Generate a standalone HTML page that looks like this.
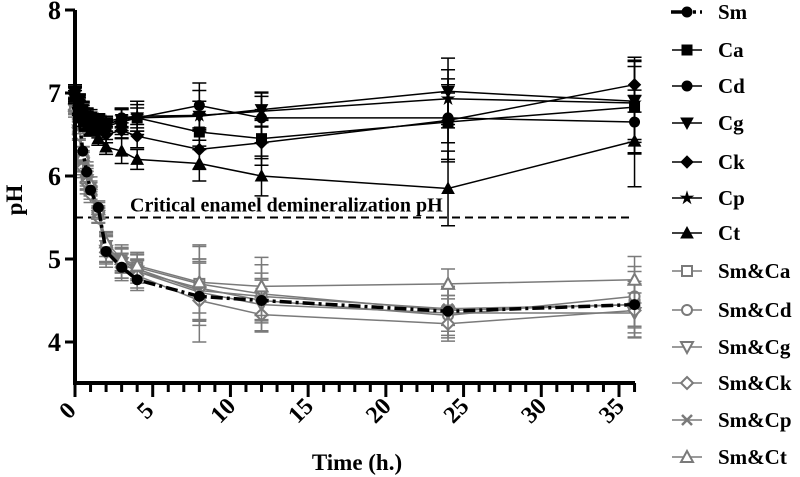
<!DOCTYPE html>
<html><head><meta charset="utf-8"><style>
html,body{margin:0;padding:0;background:#fff;}
svg{display:block;font-family:"Liberation Serif",serif;font-weight:bold;}
</style></head><body>
<svg id="chart" width="800" height="477" viewBox="0 0 800 477"></svg>
<script>
const times=[0,0.25,0.5,0.75,1,1.5,2,3,4,8,12,24,36];
const seriesNames=['Sm','Ca','Cd','Cg','Ck','Cp','Ct','Sm&Ca','Sm&Cd','Sm&Cg','Sm&Ck','Sm&Cp','Sm&Ct'];
const smVals=[6.95,6.7,6.3,6.05,5.83,5.62,5.09,4.9,4.75,4.55,4.5,4.37,4.45];
const caVals=[7.0,6.9,6.8,6.72,6.68,6.65,6.6,6.65,6.7,6.53,6.45,6.65,6.83];
const cdVals=[7.0,6.88,6.78,6.7,6.68,6.65,6.6,6.7,6.7,6.85,6.7,6.7,6.65];
const cgVals=[7.0,6.9,6.8,6.72,6.7,6.66,6.62,6.68,6.7,6.72,6.8,7.02,6.9];
const ckVals=[6.98,6.85,6.72,6.62,6.58,6.55,6.5,6.55,6.48,6.32,6.4,6.67,7.1];
const cpVals=[7.0,6.9,6.8,6.72,6.7,6.68,6.65,6.7,6.72,6.73,6.78,6.93,6.88];
const ctVals=[6.95,6.82,6.7,6.6,6.55,6.45,6.35,6.3,6.2,6.15,6.0,5.85,6.42];
const smCaVals=[6.85,6.6,6.2,6.0,5.85,5.58,5.15,4.98,4.9,4.7,4.58,4.38,4.45];
const smCdVals=[6.85,6.6,6.15,5.98,5.82,5.55,5.12,4.95,4.85,4.65,4.5,4.32,4.55];
const smCgVals=[6.8,6.55,6.15,5.95,5.8,5.52,5.1,4.95,4.85,4.6,4.45,4.35,4.35];
const smCkVals=[6.8,6.5,6.1,5.92,5.78,5.5,5.08,4.9,4.8,4.5,4.33,4.22,4.38];
const smCpVals=[6.85,6.6,6.2,6.0,5.85,5.56,5.15,4.97,4.88,4.62,4.55,4.4,4.45];
const smCtVals=[6.85,6.65,6.25,6.05,5.9,5.6,5.2,5.0,4.92,4.72,4.67,4.7,4.75];
const blackSd=[0.1,0.1,0.1,0.1,0.1,0.1,0.1,0.15,0.2,0.3,0.3,0.5,0.55];
const graySd=[0.1,0.1,0.15,0.15,0.1,0.1,0.2,0.2,0.2,0.5,0.35,0.3,0.4];
const xTicks=[0,5,10,15,20,25,30,35];
const yTicks=[4,5,6,7,8];
const criticalPH=5.5;

const NS='http://www.w3.org/2000/svg';
const svg=document.getElementById('chart');
const X0=75,XS=(619-75)/35, Y4=342, YS=83;
function xs(t){return X0+t*XS;}
function ys(v){return Y4-(v-4)*YS;}
function mk(tag,attrs,parent){const e=document.createElementNS(NS,tag);for(const k in attrs)e.setAttribute(k,attrs[k]);(parent||svg).appendChild(e);return e;}

const seriesVals=[smVals,caVals,cdVals,cgVals,ckVals,cpVals,ctVals,smCaVals,smCdVals,smCgVals,smCkVals,smCpVals,smCtVals];
const markers=['circle','square','circle','down','diamond','star','up','square','circle','down','diamond','cross','up'];

function marker(type,cx,cy,color,fill,parent,s){
  s=s||5;
  const st={stroke:color,'stroke-width':fill?1:2,fill:fill?color:'#fff'};
  let e;
  if(type==='circle')e=mk('circle',Object.assign({cx:cx,cy:cy,r:s},st),parent);
  else if(type==='square')e=mk('rect',Object.assign({x:cx-s,y:cy-s,width:2*s,height:2*s},st),parent);
  else if(type==='down')e=mk('polygon',Object.assign({points:`${cx-s-1},${cy-s} ${cx+s+1},${cy-s} ${cx},${cy+s+1}`},st),parent);
  else if(type==='up')e=mk('polygon',Object.assign({points:`${cx-s-1},${cy+s} ${cx+s+1},${cy+s} ${cx},${cy-s-1}`},st),parent);
  else if(type==='diamond')e=mk('polygon',Object.assign({points:`${cx},${cy-s-1} ${cx+s+1},${cy} ${cx},${cy+s+1} ${cx-s-1},${cy}`},st),parent);
  else if(type==='star'){let p=[];for(let i=0;i<10;i++){const r=i%2?s*0.45:s*1.2;const a=-Math.PI/2+i*Math.PI/5;p.push((cx+r*Math.cos(a)).toFixed(1)+','+(cy+r*Math.sin(a)).toFixed(1));}e=mk('polygon',Object.assign({points:p.join(' ')},st),parent);}
  else if(type==='cross')e=mk('path',{d:`M${cx-s},${cy-s}L${cx+s},${cy+s}M${cx-s},${cy+s}L${cx+s},${cy-s}`,stroke:color,'stroke-width':2.5,fill:'none'},parent);
  return e;
}

const cl=mk('line',{x1:X0,x2:630,y1:ys(criticalPH),y2:ys(criticalPH),stroke:'#000','stroke-width':2,'stroke-dasharray':'8,5'});


const ct=mk('text',{x:130,y:ys(criticalPH)-6,'font-size':20,fill:'#000'});
ct.textContent='Critical enamel demineralization pH';



const order=[7,8,9,10,11,12,1,2,3,4,5,6,0];
order.forEach(i=>{
  const vals=seriesVals[i];
  const gray=i>=7, isSm=i===0;
  const color=gray?'#7a7a7a':'#000';
  const g=mk('g',{});
  
  
  const sd=gray?graySd:blackSd;
  if(i!==0){
    times.forEach((t,j)=>{
      const x=xs(t),d=sd[j]*(0.6+0.4*((i*7+j)%5)/4);
      mk('path',{d:`M${x},${ys(vals[j]+d)}V${ys(vals[j]-d)}M${x-7},${ys(vals[j]+d)}H${x+7}M${x-7},${ys(vals[j]-d)}H${x+7}`,stroke:color,'stroke-width':1.5,fill:'none'},g);
    });
  }
  const pts=times.map((t,j)=>xs(t).toFixed(1)+','+ys(vals[j]).toFixed(1)).join(' ');
  mk('polyline',{points:pts,fill:'none',stroke:color,'stroke-width':isSm?3.5:1.5,'stroke-dasharray':isSm?'12,4,3,4':'none'},g);
  times.forEach((t,j)=>{marker(markers[i],xs(t),ys(vals[j]),color,!gray,g,5);});
});

const ax=mk('g',{});


mk('path',{d:`M${X0},${ys(8)}V383H635`,stroke:'#000','stroke-width':4,fill:'none'},ax);
yTicks.forEach(v=>{
  mk('line',{x1:X0-10,x2:X0,y1:ys(v),y2:ys(v),stroke:'#000','stroke-width':3},ax);
  const t=mk('text',{x:X0-14,y:ys(v)+9,'text-anchor':'end','font-size':26},ax);
  t.textContent=v;
  
  
});
for(let k=0;k<=36;k++){
  const major=k%5===0;
  mk('line',{x1:xs(k),x2:xs(k),y1:383,y2:383+(major?14:9),stroke:'#000','stroke-width':3},ax);
}
xTicks.forEach(v=>{
  const x=xs(v)-2,y=416;
  const t=mk('text',{x:x,y:y,'text-anchor':'middle','font-size':24,transform:`rotate(-45 ${x} ${y})`},ax);
  t.textContent=v;
  
  
});
const yl=mk('text',{x:22,y:200,'text-anchor':'middle','font-size':23,transform:'rotate(-90 22 200)'});
yl.textContent='pH';


const xl=mk('text',{x:357,y:470,'text-anchor':'middle','font-size':23});
xl.textContent='Time (h.)';



const legY=[12,50,86,123,162,198,233,271,310,347,383,420,457];
seriesNames.forEach((n,i)=>{
  const g=mk('g',{});
  
  
  const gray=i>=7,color=gray?'#7a7a7a':'#000',y=legY[i];
  if(i===0){
    mk('line',{x1:671,x2:690,y1:y,y2:y,stroke:'#000','stroke-width':3.5},g);
    mk('line',{x1:693,x2:702,y1:y,y2:y,stroke:'#000','stroke-width':3.5,'stroke-dasharray':'3,4'},g);
  } else mk('line',{x1:672,x2:702,y1:y,y2:y,stroke:color,'stroke-width':1.5},g);
  marker(markers[i],687,y,color,!gray,g,5);
  const t=mk('text',{x:718,y:y+7,'font-size':21,fill:'#000'},g);
  t.textContent=n;
});
</script>
</body></html>
